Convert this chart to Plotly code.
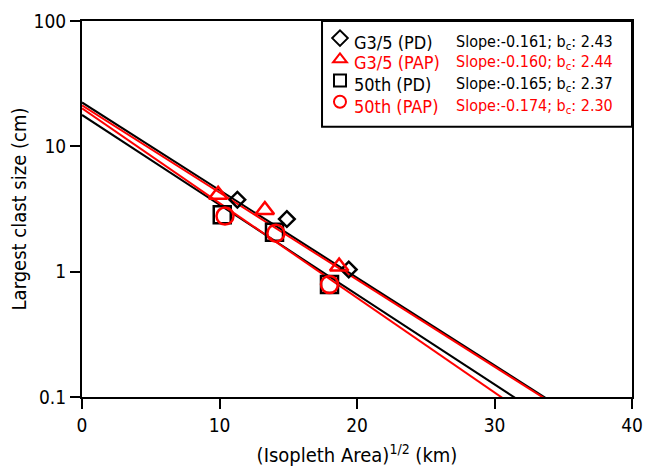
import numpy as np
import plotly.graph_objects as go

# ---- data ----
series_names = ["G3/5 (PD)", "G3/5 (PAP)", "50th (PD)", "50th (PAP)"]
series_colors = ["black", "red", "black", "red"]
series_symbols = ["diamond-open", "triangle-up-open", "square-open", "circle-open"]
series_sizes = [12, 16, 17, 17]

g35_pd_x = [11.3, 14.9, 19.4]
g35_pd_y = [3.75, 2.63, 1.04]
g35_pap_x = [9.9, 13.3, 18.7]
g35_pap_y = [4.1, 3.1, 1.1]
p50_pd_x = [10.2, 14.0, 18.0]
p50_pd_y = [2.84, 2.06, 0.79]
p50_pap_x = [10.4, 14.1, 18.0]
p50_pap_y = [2.78, 2.03, 0.79]

# fit lines: ln(T) = ln(T0) + slope * x
fit_slopes = [-0.161, -0.160, -0.165, -0.174]
fit_intercepts = [22.4, 21.2, 17.8, 20.1]
fit_bc = ["2.43", "2.44", "2.37", "2.30"]
line_x = [0, 40]

xs = [g35_pd_x, g35_pap_x, p50_pd_x, p50_pap_x]
ys = [g35_pd_y, g35_pap_y, p50_pd_y, p50_pap_y]

FONT = "DejaVu Sans Condensed, DejaVu Sans, sans-serif"

fig = go.Figure()

# fit lines: black first, then red
for i in [0, 2, 1, 3]:
    lx = np.array(line_x, dtype=float)
    ly = fit_intercepts[i] * np.exp(fit_slopes[i] * lx)
    fig.add_trace(go.Scatter(x=lx, y=ly, mode="lines",
                             line=dict(color=series_colors[i], width=2),
                             showlegend=False, hoverinfo="skip"))

for i in [0, 2, 1, 3]:
    fig.add_trace(go.Scatter(x=xs[i], y=ys[i], mode="markers", name=" ",
                             legendrank=i + 1,
                             marker=dict(symbol=series_symbols[i], size=series_sizes[i],
                                         color=series_colors[i],
                                         line=dict(width=2.5, color=series_colors[i])),
                             showlegend=True))

# legend box
fig.add_shape(type="rect", xref="paper", yref="paper",
              x0=0.4364, x1=1.0, y0=0.719, y1=1.0,
              fillcolor="white", line=dict(color="black", width=2), layer="above")

row_y = [0.942, 0.889, 0.830, 0.773]
for i in range(4):
    fig.add_annotation(xref="paper", yref="paper", x=0.4904, y=row_y[i],
                       text=series_names[i], showarrow=False,
                       xanchor="left", yanchor="middle",
                       font=dict(family=FONT, size=18, color=series_colors[i]))
    fig.add_annotation(xref="paper", yref="paper", x=0.6769, y=row_y[i],
                       text=f"Slope:{fit_slopes[i]:.3f}; b<sub>c</sub>: {fit_bc[i]}",
                       showarrow=False, xanchor="left", yanchor="middle",
                       font=dict(family=FONT, size=16, color=series_colors[i]))

fig.update_layout(
    width=646, height=467,
    margin=dict(l=82, r=14, t=21, b=70),
    paper_bgcolor="white", plot_bgcolor="white",
    font=dict(family=FONT, size=19, color="black"),
    legend=dict(x=0.4327, y=0.996, xanchor="left", yanchor="top",
                bgcolor="rgba(0,0,0,0)", borderwidth=0,
                font=dict(size=14), itemwidth=30, tracegroupgap=0,
                itemsizing="constant"),
    xaxis=dict(range=[0, 40], tickvals=[0, 10, 20, 30, 40], automargin=False,
               showline=True, linecolor="black", linewidth=2, mirror=True,
               ticks="outside", ticklen=10, tickwidth=2, tickcolor="black",
               showgrid=False, zeroline=False,
               title=dict(text="(Isopleth Area)<sup>1/2</sup> (km)", standoff=14,
                          font=dict(size=20))),
    yaxis=dict(type="log", range=[-1, 2], tickvals=[0.1, 1, 10, 100],
               ticktext=["0.1", "1", "10", "100"], automargin=False,
               showline=True, linecolor="black", linewidth=2, mirror=True,
               ticks="outside", ticklen=10, tickwidth=2, tickcolor="black",
               showgrid=False, zeroline=False,
               title=dict(text="Largest clast size (cm)", standoff=2,
                          font=dict(size=20))),
)

fig.write_html("out.html")
